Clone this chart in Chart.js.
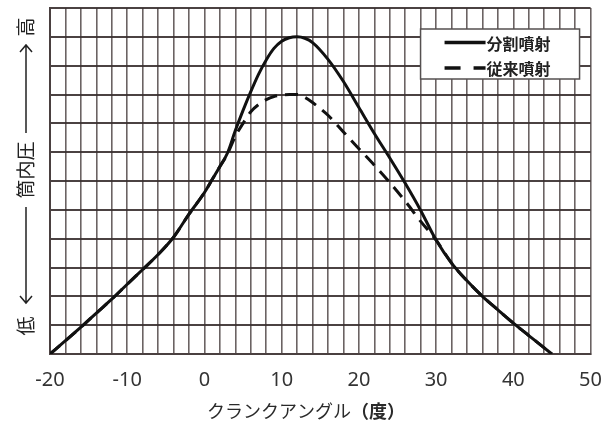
<!DOCTYPE html>
<html>
<head>
<meta charset="utf-8">
<script src="https://cdn.jsdelivr.net/npm/chart.js@4.4.1/dist/chart.umd.min.js"></script>
<style>
  html, body { margin: 0; padding: 0; background: #ffffff; }
  #wrap { width: 616px; height: 432px; }
</style>
</head>
<body>
<div id="wrap"><canvas id="c" width="616" height="432"></canvas></div>
<script>
// ---- data ----
const crankAngle = [-20,-18,-16,-14,-12,-10,-8,-6,-4,-2,0,1,2,3,4,5,6,7,8,9,10,11,12,13,14,16,18,20,22,24,26,28,30,32,34,36,38,40,42,44,45];
const splitInjection = [0,0.46,0.93,1.42,1.9,2.42,2.93,3.45,4.05,4.85,5.6,6.05,6.5,6.98,7.75,8.45,9.1,9.7,10.2,10.6,10.85,10.97,11.0,10.95,10.8,10.22,9.45,8.55,7.65,6.8,5.92,4.98,3.95,3.15,2.54,2.0,1.53,1.07,0.64,0.21,0];
const conventionalInjection = [0,0.46,0.93,1.42,1.9,2.42,2.93,3.45,4.05,4.85,5.6,6.05,6.5,6.95,7.55,8.0,8.4,8.65,8.82,8.93,8.98,9.0,9.0,8.9,8.72,8.28,7.7,7.12,6.55,5.95,5.3,4.6,3.95,3.15,2.54,2.0,1.53,1.07,0.64,0.21,0];
const seriesLabels = ['分割噴射', '従来噴射'];
const xTickLabels = [-20,-10,0,10,20,30,40,50];
const xTitleParts = ['クランクアングル', '（度）'];
const yTitleParts = ['低', '筒内圧', '高'];

const toPts = ys => crankAngle.map((x, i) => ({x: x, y: ys[i]}));

const whiteBg = {
  id: 'whiteBg',
  beforeDraw(chart) {
    const ctx = chart.ctx;
    ctx.save();
    ctx.fillStyle = '#ffffff';
    ctx.fillRect(0, 0, chart.width, chart.height);
    ctx.restore();
  }
};

const boxLegend = {
  id: 'boxLegend',
  afterDatasetsDraw(chart) {
    const ctx = chart.ctx;
    const ca = chart.chartArea;
    const bx = ca.right - 170, by = ca.top + 21, bw = 159, bh = 50;
    ctx.save();
    ctx.fillStyle = '#ffffff';
    ctx.fillRect(bx, by, bw, bh);
    ctx.strokeStyle = '#555050';
    ctx.lineWidth = 1.5;
    ctx.strokeRect(bx, by, bw, bh);
    chart.data.datasets.forEach((ds, i) => {
      const yy = by + 13.5 + i * 25.5;
      ctx.beginPath();
      ctx.setLineDash(ds.borderDash && ds.borderDash.length ? [16, 13] : []);
      ctx.strokeStyle = '#111';
      ctx.lineWidth = 3.5;
      ctx.moveTo(bx + 24, yy);
      ctx.lineTo(bx + 65, yy);
      ctx.stroke();
      ctx.setLineDash([]);
      ctx.fillStyle = '#222';
      ctx.font = 'bold 16px "Noto Sans CJK JP", sans-serif';
      ctx.textBaseline = 'middle';
      ctx.textAlign = 'left';
      ctx.fillText(ds.label, bx + 66, yy + 1);
    });
    ctx.restore();
  }
};

const axisTitles = {
  id: 'axisTitles',
  afterDraw(chart) {
    const ctx = chart.ctx;
    ctx.save();
    // x-axis title, centred on the page like the reference
    const f1 = '18px "Noto Sans CJK JP", sans-serif';
    const f2 = 'bold 18px "Noto Sans CJK JP", sans-serif';
    ctx.font = f1; const w1 = ctx.measureText(xTitleParts[0]).width;
    ctx.font = f2; const w2 = ctx.measureText(xTitleParts[1]).width;
    let x0 = 306 - (w1 + w2) / 2;
    ctx.fillStyle = '#2a2a2a';
    ctx.textBaseline = 'middle';
    ctx.textAlign = 'left';
    ctx.font = f1; ctx.fillText(xTitleParts[0], x0, 411);
    ctx.font = f2; ctx.fillText(xTitleParts[1], x0 + w1, 411);

    // y-axis title, rotated
    ctx.translate(26, 177);
    ctx.rotate(-Math.PI / 2);
    ctx.fillStyle = '#222';
    ctx.strokeStyle = '#222';
    ctx.font = '19px "Noto Sans CJK JP", sans-serif';
    ctx.textAlign = 'center';
    ctx.fillText(yTitleParts[0], -149, 0);
    ctx.fillText(yTitleParts[1], 7, 0);
    ctx.fillText(yTitleParts[2], 150, 0);
    ctx.lineWidth = 1.5;
    ctx.beginPath();
    ctx.moveTo(-30, 0); ctx.lineTo(-126, 0);
    ctx.moveTo(-119, -6); ctx.lineTo(-126, 0); ctx.lineTo(-119, 6);
    ctx.stroke();
    ctx.beginPath();
    ctx.moveTo(44, 0); ctx.lineTo(132, 0);
    ctx.moveTo(125, -6); ctx.lineTo(132, 0); ctx.lineTo(125, 6);
    ctx.stroke();
    ctx.restore();
  }
};

new Chart(document.getElementById('c'), {
  type: 'scatter',
  data: {
    datasets: [
      {
        label: seriesLabels[0],
        data: toPts(splitInjection),
        showLine: true,
        borderColor: '#111111',
        borderWidth: 3,
        pointRadius: 0,
        cubicInterpolationMode: 'monotone',
        fill: false
      },
      {
        label: seriesLabels[1],
        data: toPts(conventionalInjection),
        showLine: true,
        borderColor: '#111111',
        borderWidth: 3,
        borderDash: [13, 8],
        pointRadius: 0,
        cubicInterpolationMode: 'monotone',
        fill: false
      }
    ]
  },
  options: {
    responsive: false,
    animation: false,
    devicePixelRatio: 1,
    layout: { padding: { left: 50, right: 23, top: 8, bottom: 0 } },
    plugins: {
      legend: { display: false },
      tooltip: { enabled: false }
    },
    scales: {
      x: {
        type: 'linear',
        min: -20, max: 50,
        afterFit: s => { s.height = 78; },
        ticks: {
          stepSize: 2,
          autoSkip: false,
          maxRotation: 0,
          padding: 14,
          color: '#333333',
          font: { family: '"Noto Sans", sans-serif', size: 20 },
          callback: v => xTickLabels.includes(v) ? String(v) : ''
        },
        grid: { color: 'rgba(70,60,60,0.8)', lineWidth: 1.6, drawTicks: false },
        border: { color: '#4a4040', width: 2 }
      },
      y: {
        type: 'linear',
        min: 0, max: 12,
        ticks: { stepSize: 1, display: false },
        grid: { color: 'rgba(55,45,45,0.9)', lineWidth: 2, drawTicks: false },
        border: { color: '#4a4040', width: 2 }
      }
    }
  },
  plugins: [whiteBg, boxLegend, axisTitles]
});
</script>
</body>
</html>
